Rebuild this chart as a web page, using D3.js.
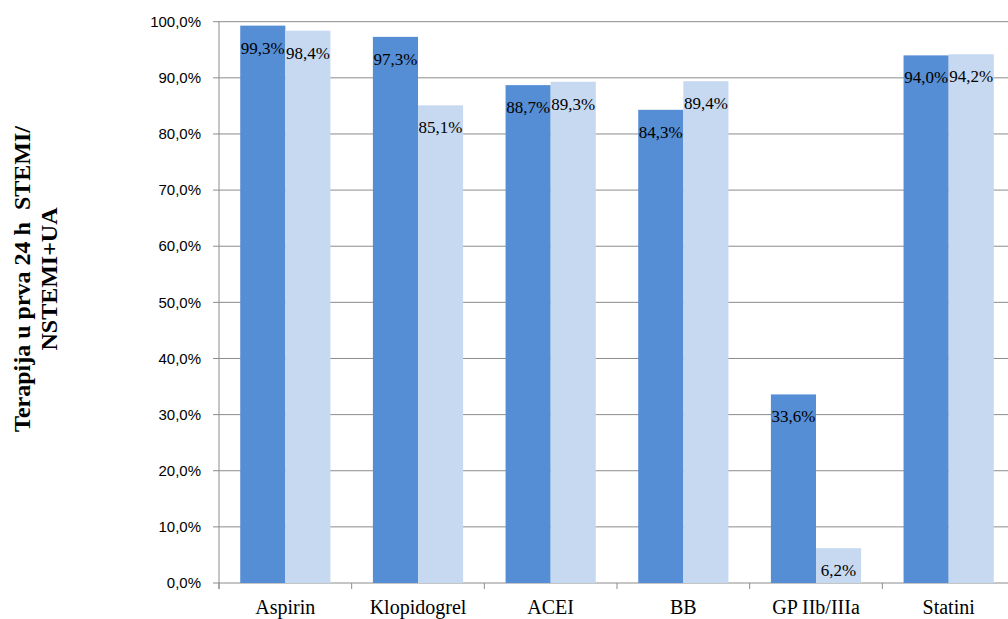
<!DOCTYPE html>
<html>
<head>
<meta charset="utf-8">
<script src="https://cdn.jsdelivr.net/npm/d3@7"></script>
<style>
body { margin: 0; background: #fff; }
</style>
</head>
<body>
<svg id="chart" width="1008" height="619"></svg>
<script>
var categories = ['Aspirin', 'Klopidogrel', 'ACEI', 'BB', 'GP IIb/IIIa', 'Statini'];
var seriesA = [99.3, 97.3, 88.7, 84.3, 33.6, 94.0];
var seriesB = [98.4, 85.1, 89.3, 89.4, 6.2, 94.2];
var yTicks = [0, 10, 20, 30, 40, 50, 60, 70, 80, 90, 100];
var colors = ['#558ED5', '#C6D9F1'];

var plotLeft = 219, plotRight = 1015, plotTop = 21.7, plotBottom = 583;
var serif = "'Liberation Serif', 'Times New Roman', serif";

var svg = d3.select('#chart');

var x = d3.scaleBand().domain(categories).range([plotLeft, plotRight]).paddingInner(0.32).paddingOuter(0.16);
var x1 = d3.scaleBand().domain([0, 1]).range([0, x.bandwidth()]);
var y = d3.scaleLinear().domain([0, 100]).range([plotBottom, plotTop]);

var fmt = function (v) { return v.toFixed(1).replace('.', ',') + '%'; };

// gridlines
svg.append('g').selectAll('line').data(yTicks).enter().append('line')
	.attr('x1', plotLeft - 6).attr('x2', 1008)
	.attr('y1', function (d) { return y(d); }).attr('y2', function (d) { return y(d); })
	.attr('stroke', '#8c8c8c').attr('stroke-width', 1);

// y tick labels
svg.append('g').selectAll('text').data(yTicks).enter().append('text')
	.attr('x', plotLeft - 18).attr('y', function (d) { return y(d); })
	.attr('dy', '0.35em').attr('text-anchor', 'end')
	.attr('font-family', "'Liberation Sans', Arial, sans-serif").attr('font-size', 15)
	.attr('fill', '#000')
	.text(fmt);

// y axis line
svg.append('line').attr('x1', plotLeft).attr('x2', plotLeft).attr('y1', plotTop).attr('y2', plotBottom + 6)
	.attr('stroke', '#8c8c8c');

// category tick marks
var step = x.step();
var boundaries = d3.range(categories.length + 1).map(function (i) { return plotLeft + i * step; });
svg.append('g').selectAll('line').data(boundaries).enter().append('line')
	.attr('x1', function (d) { return d; }).attr('x2', function (d) { return d; })
	.attr('y1', plotBottom).attr('y2', plotBottom + 6)
	.attr('stroke', '#8c8c8c');

var series = [seriesA, seriesB];
series.forEach(function (vals, s) {
	var g = svg.append('g');
	g.selectAll('rect').data(vals).enter().append('rect')
		.attr('x', function (d, i) { return x(categories[i]) + x1(s); })
		.attr('y', function (d) { return y(d); })
		.attr('width', x1.bandwidth())
		.attr('height', function (d) { return plotBottom - y(d); })
		.attr('fill', colors[s]);
	g.selectAll('text').data(vals).enter().append('text')
		.attr('x', function (d, i) { return x(categories[i]) + x1(s) + x1.bandwidth() / 2; })
		.attr('y', function (d) { return y(d) + 28; })
		.attr('text-anchor', 'middle')
		.attr('font-family', serif).attr('font-size', 17)
		.attr('fill', '#000')
		.text(fmt);
});

// category labels
svg.append('g').selectAll('text').data(categories).enter().append('text')
	.attr('x', function (d) { return x(d) + x.bandwidth() / 2; })
	.attr('y', 614)
	.attr('text-anchor', 'middle')
	.attr('font-family', serif).attr('font-size', 20)
	.attr('fill', '#000')
	.text(function (d) { return d; });

// axis title
var title = svg.append('text')
	.attr('transform', 'translate(30,279) rotate(-90)')
	.attr('text-anchor', 'middle')
	.attr('font-family', serif).attr('font-size', 24)
	.attr('font-weight', 'bold').attr('fill', '#000');
title.append('tspan').attr('x', 0).attr('dy', 0).style('white-space', 'pre').text('Terapija u prva 24 h  STEMI/');
title.append('tspan').attr('x', 0).attr('dy', 27).text('NSTEMI+UA');
</script>
</body>
</html>
